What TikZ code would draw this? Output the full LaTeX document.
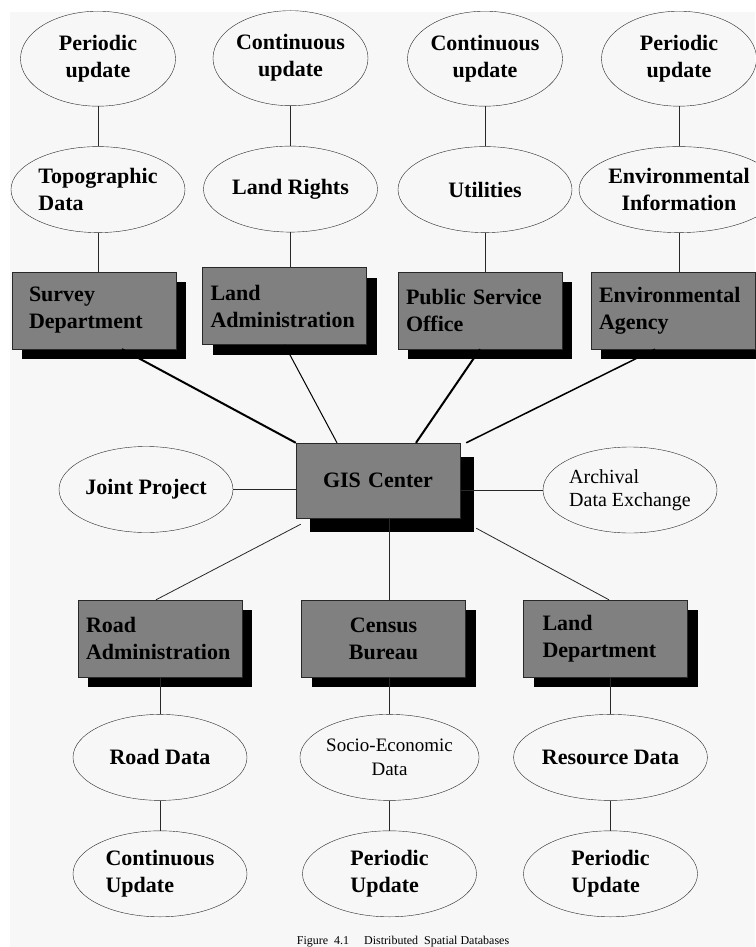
\documentclass[tikz,border=0pt]{standalone}
\usepackage{fontspec}
\setmainfont{Liberation Serif}
\usetikzlibrary{positioning,shapes.geometric,shadows}
\definecolor{boxgray}{RGB}{128,128,128}
\definecolor{pagegray}{RGB}{247,247,247}
\definecolor{rimgray}{RGB}{40,40,40}

\begin{document}
\begin{tikzpicture}[x=1pt,y=-1pt,
    every node/.style={font=\fontsize{22}{27}\selectfont\bfseries},
    upd/.style={ellipse,draw=rimgray,minimum width=155pt,minimum height=95pt,inner sep=0pt,align=center},
    dat/.style={ellipse,draw=rimgray,minimum width=174pt,minimum height=86pt,inner sep=0pt,align=center},
    shade/.style={drop shadow={shadow xshift=#1,shadow yshift=-#1,fill=black,opacity=1}},
    office/.style={draw=rimgray,fill=boxgray,minimum width=164pt,minimum height=77pt,
        text width=148pt,inner xsep=8pt,align=left,shade=#1},
    office/.default=10pt,
    link/.style={draw=rimgray,line width=0.8pt}]

    \useasboundingbox (0,0) rectangle (755,947);
    \fill[pagegray] (10,12) rectangle (755,947);

    %hub
    \node[office=14pt,minimum height=75pt,align=center] (gis) at (378,480.5) {GIS Center};
    \node[dat] (j) at (146,489.5) {Joint Project};
    \node[dat,align=left,font=\fontsize{20}{23}\selectfont] (x) at (630,490) {Archival\\Data Exchange};

    %upper offices
    \node[office,text width=130pt,inner xsep=17pt] (a_1) at (94,310.5) {Survey\\Department};
    \node[office] (a_2) at (284.5,306) {Land\\Administration};
    \node[office] (a_3) at (480,310.5) {Public Service\\Office};
    \node[office] (a_4) at (673,310.5) {Environmental\\Agency};

    %upper data
    \node[dat,align=left] (d_1) [above=39pt of a_1,xshift=4pt] {Topographic\\Data};
    \node[dat] (d_2) [above=35pt of a_2,xshift=6pt] {Land Rights};
    \node[dat] (d_3) [above=39pt of a_3,xshift=5pt] {Utilities};
    \node[dat] (d_4) [above=39pt of a_4,xshift=6pt] {Environmental\\Information};

    %upper updates
    \node[upd] (u_1) [above=40pt of d_1] {Periodic\\update};
    \node[upd] (u_2) [above=40pt of d_2] {Continuous\\update};
    \node[upd] (u_3) [above=40pt of d_3] {Continuous\\update};
    \node[upd] (u_4) [above=40pt of d_4] {Periodic\\update};

    %lower offices
    \node[office] (b_1) at (160,638.5) {Road\\Administration};
    \node[office,align=center] (b_2) at (383.5,638.5) {Census\\Bureau};
    \node[office,text width=126pt,inner xsep=19pt] (b_3) at (605.5,638.5) {Land\\Department};

    %lower data
    \node[dat] (d_5) [below=37pt of b_1] {Road Data};
    \node[dat,font=\fontsize{19}{24}\selectfont] (d_6) [below=37pt of b_2,xshift=6pt] {Socio-Economic\\Data};
    \node[dat] (d_7) [below=37pt of b_3,xshift=5pt] {Resource Data};

    %lower updates
    \node[dat,align=left] (u_5) [below=30pt of d_5] {Continuous\\Update};
    \node[dat,align=left] (u_6) [below=30pt of d_6] {Periodic\\Update};
    \node[dat,align=left] (u_7) [below=30pt of d_7] {Periodic\\Update};

    %caption
    \node[font=\fontsize{12}{14}\selectfont,anchor=base,inner sep=0pt] (cap) at (403,944)
        {Figure\ \ 4.1\quad\ Distributed\ \ Spatial Databases};

    %columns up
    \draw[link] (u_1) -- (d_1);
    \draw[link] (u_2) -- (d_2);
    \draw[link] (u_3) -- (d_3);
    \draw[link] (u_4) -- (d_4);
    \draw[link] (d_1) -- (d_1 |- a_1.north);
    \draw[link] (d_2) -- (d_2 |- a_2.north);
    \draw[link] (d_3) -- (d_3 |- a_3.north);
    \draw[link] (d_4) -- (d_4 |- a_4.north);

    %columns down
    \draw[link] (d_5) -- (d_5 |- b_1.south);
    \draw[link] (d_6) -- (d_6 |- b_2.south);
    \draw[link] (d_7) -- (d_7 |- b_3.south);
    \draw[link] (d_5) -- (u_5);
    \draw[link] (d_6) -- (u_6);
    \draw[link] (d_7) -- (u_7);

    %spokes
    \draw[line width=2pt] ([xshift=28pt]a_1.south) -- (gis.north west);
    \draw[line width=1pt] (a_2.south) -- ([xshift=-41pt]gis.north);
    \draw[line width=2pt] (a_3.south) -- ([xshift=38pt]gis.north);
    \draw[line width=1.5pt] ([xshift=-18pt]a_4.south) -- ([xshift=6pt]gis.north east);
    \draw[link] (j) -- (j -| gis.west);
    \draw[link] (x) -- (x -| gis.east);
    \draw[link] ([xshift=5pt,yshift=-6pt]gis.south west) -- ([xshift=-4pt]b_1.north);
    \draw[link] ([xshift=11pt]gis.south) -- ([xshift=5.5pt]b_2.north);
    \draw[link] ([xshift=16pt,yshift=-10pt]gis.south east) -- ([xshift=3.5pt]b_3.north);
\end{tikzpicture}
\end{document}
